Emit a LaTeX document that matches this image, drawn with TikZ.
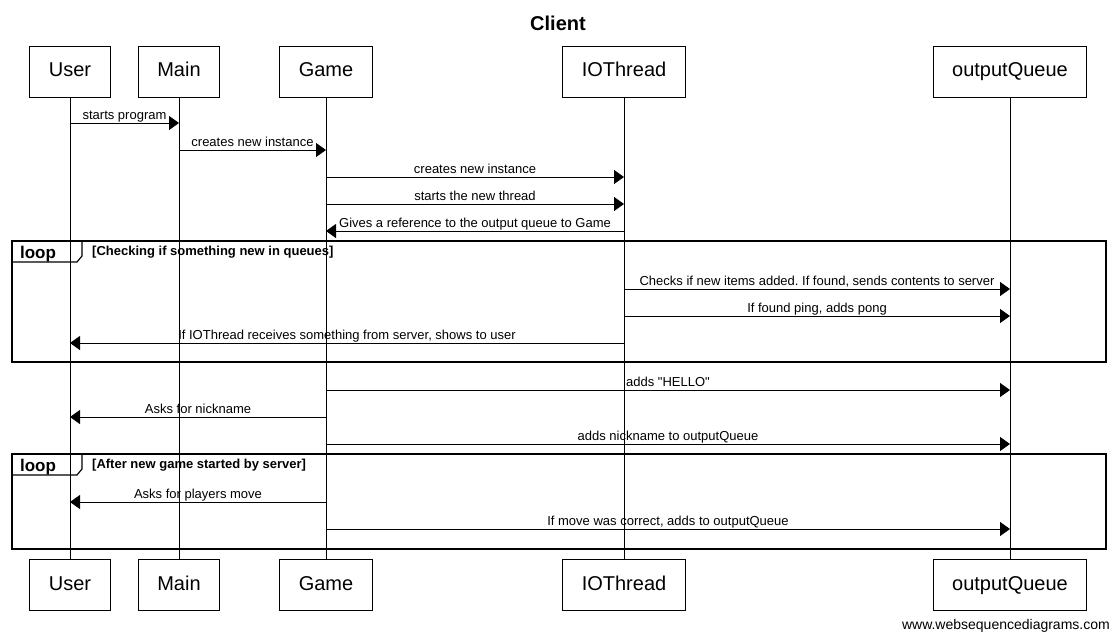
\documentclass[tikz,border=0pt]{standalone}
\usepackage{fontspec}
\setmainfont{Liberation Sans}
\newfontfamily\plainsans{Liberation Sans}   %no TeX quote mapping
\usetikzlibrary{arrows.meta}
\frenchspacing

\tikzset{
  actor/.style={draw,line width=0.9pt,inner xsep=19pt,minimum height=51pt,text height=14.5pt,text depth=4pt,font=\fontsize{20}{24}\selectfont},
  lifeline/.style={line width=0.9pt},
  msg/.style={line width=0.9pt,-{Triangle[length=10pt,width=14pt]}},
  msglabel/.style={anchor=base,inner sep=0pt,yshift=4pt,font=\plainsans\fontsize{13}{15}\selectfont},
  loopframe/.style={line width=1.6pt},
  looptag/.style={anchor=base,inner sep=0pt,font=\bfseries\fontsize{17}{19}\selectfont},
  loopcond/.style={anchor=base west,inner sep=0pt,font=\bfseries\fontsize{13}{15}\selectfont},
}

% message from one lifeline to another at a given height
\newcommand{\sendmsg}[4]{\draw[msg] (#1 |- 0,#3) -- node[msglabel] {#4} (#2 |- 0,#3);}

\begin{document}
\begin{tikzpicture}[x=1pt,y=-1pt]
  \useasboundingbox (0,0) rectangle (1115,632);

  % Title
  \node[font=\bfseries\fontsize{20}{24}\selectfont] (title) at (558,23) {Client};

  % Participants (top and bottom)
  \node[actor] (user)  at (70,71.5)   {User};
  \node[actor] (main)  at (179,71.5)  {Main};
  \node[actor] (game)  at (326,71.5)  {Game};
  \node[actor] (io)    at (624,71.5)  {IOThread};
  \node[actor] (queue) at (1010,71.5) {outputQueue};
  \node[actor] (userB)  at (70,585)   {User};
  \node[actor] (mainB)  at (179,585)  {Main};
  \node[actor] (gameB)  at (326,585)  {Game};
  \node[actor] (ioB)    at (624,585)  {IOThread};
  \node[actor] (queueB) at (1010,585) {outputQueue};

  % Loop frames
  \draw[loopframe] (12,241) rectangle (1106,362);
  \draw[line width=1.2pt] (12,262) -- (77,262) -- (82,256) -- (82,241);
  \node[looptag] (loopA) at (38,258) {loop};
  \node[loopcond] (condA) at (92,255) {[Checking if something new in queues]};

  \draw[loopframe] (12,454) rectangle (1106,549);
  \draw[line width=1.2pt] (12,475) -- (77,475) -- (82,469) -- (82,454);
  \node[looptag] (loopB) at (38,471) {loop};
  \node[loopcond] (condB) at (92,468) {[After new game started by server]};

  % Lifelines
  \foreach \p in {user,main,game,io,queue}
    \draw[lifeline] (\p.south) -- (\p B.north);

  % Messages
  \sendmsg{user}{main}{123}{starts program}
  \sendmsg{main}{game}{150}{creates new instance}
  \sendmsg{game}{io}{177}{creates new instance}
  \sendmsg{game}{io}{204}{starts the new thread}
  \sendmsg{io}{game}{231}{Gives a reference to the output queue to Game}
  \sendmsg{io}{queue}{289}{Checks if new items added. If found, sends contents to server}
  \sendmsg{io}{queue}{316}{If found ping, adds pong}
  \sendmsg{io}{user}{343}{If IOThread receives something from server, shows to user}
  \sendmsg{game}{queue}{390}{adds "HELLO"}
  \sendmsg{game}{user}{417}{Asks for nickname}
  \sendmsg{game}{queue}{444}{adds nickname to outputQueue}
  \sendmsg{game}{user}{502}{Asks for players move}
  \sendmsg{game}{queue}{529}{If move was correct, adds to outputQueue}

  % Watermark
  \node[anchor=base east,inner sep=0pt,font=\fontsize{14}{16}\selectfont] (mark) at (1110,629) {www.websequencediagrams.com};
\end{tikzpicture}
\end{document}
